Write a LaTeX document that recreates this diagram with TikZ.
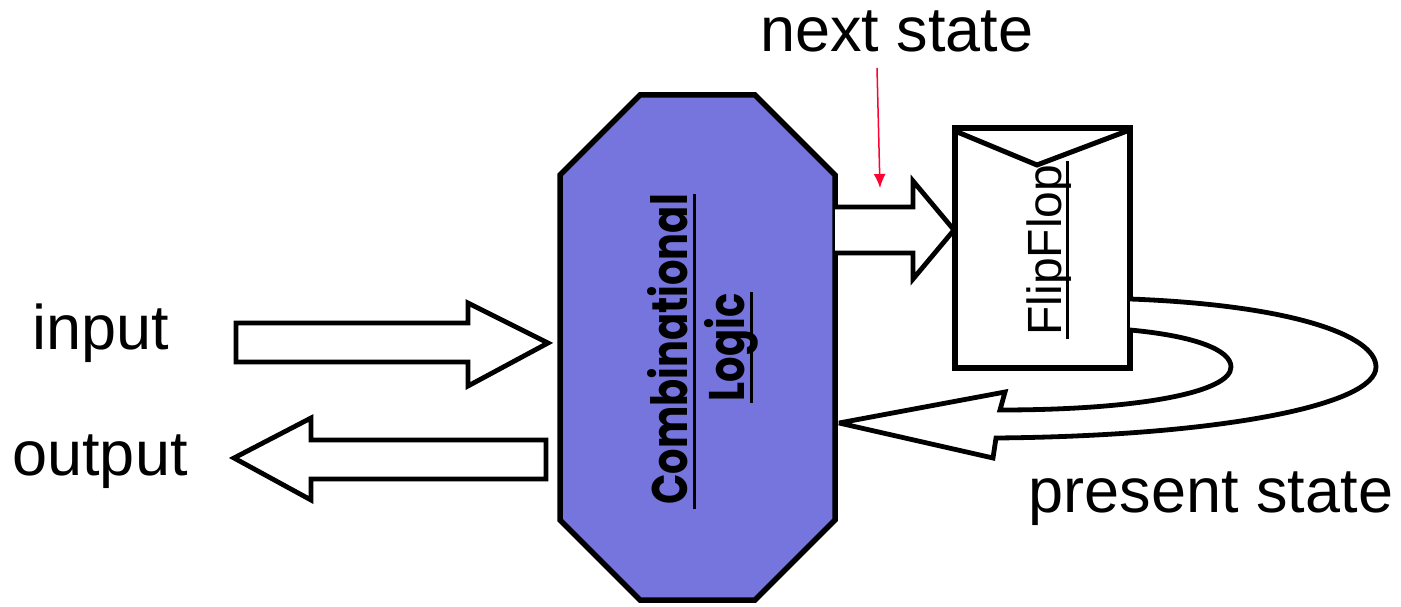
\documentclass[tikz,border=0pt]{standalone}
\usepackage{fontspec}
\usetikzlibrary{arrows.meta}
\setmainfont{Liberation Sans}
\newfontfamily\comicfont{Poppins}
\definecolor{combfill}{HTML}{7575DD}
\definecolor{nsred}{HTML}{FF0033}
\begin{document}
\begin{tikzpicture}[x=1pt,y=-1pt]
\useasboundingbox (0,0) rectangle (1401,607);
\tikzset{
  blockarrow/.style={draw=black, line width=4.8pt, fill=white, line join=miter, miter limit=4},
  lbl/.style={font=\fontsize{63}{70}\selectfont, inner sep=0pt, anchor=base},
  vlbl/.style={inner sep=0pt, outer sep=0pt, anchor=base, rotate=90},
  combtxt/.style={vlbl, font=\comicfont\bfseries\fontsize{50}{56}\selectfont},
  uline/.style={line width=3pt}
}
% combinational logic octagon
\coordinate (o1) at (560,175); \coordinate (o2) at (640,95);
\coordinate (o3) at (755,95);  \coordinate (o4) at (835,175);
\coordinate (o5) at (835,520); \coordinate (o6) at (755,600);
\coordinate (o7) at (640,600); \coordinate (o8) at (560,520);
\draw[line width=5.5pt, fill=combfill, line join=miter] (o1) -- (o2) -- (o3) -- (o4) -- (o5) -- (o6) -- (o7) -- (o8) -- cycle;
\node[combtxt] (comb) at (687,349.5) {\scalebox{0.8}[1]{Combinational}};
\node[combtxt] (logic) at (744,347.5) {\scalebox{0.8}[1]{Logic}};
\draw[uline] (comb.base west) ++(7,4) -- ([shift={(7,0)}]comb.base east);
\draw[uline] (logic.base west) ++(7,2) -- ([shift={(7,-2)}]logic.base east);

% flip flop
\draw[line width=5.5pt, fill=white] (955,128) rectangle coordinate[pos=0.5] (ffc) (1130,368);
\coordinate (ffnw) at (955,131);
\coordinate (ffv) at (1037,165);
\coordinate (ffne) at (1127,131);
\draw[line width=5pt, line join=miter] (ffnw) -- (ffv) -- (ffne);
\node[vlbl, font=\fontsize{48}{54}\selectfont] (ff) at (1061,250) {FlipFlop};
\draw[line width=3pt] (ff.base west) ++(6,4) -- ([shift={(6,-4)}]ff.base east);

% input arrow
\draw[blockarrow] (236,323) -- (468,323) -- (468,303) -- (548,343) -- (468,386) -- (468,362) -- (236,362) -- cycle;
% output arrow
\draw[blockarrow] (546,440) -- (311,440) -- (311,418) -- (234,458) -- (311,500) -- (311,479) -- (546,479) -- cycle;
% next state arrow
\draw[blockarrow] (o4 |- 0,207) -- (913,207) -- (913,181) -- (954,230) -- (913,279) -- (913,253) -- (o4 |- 0,253);
% feedback (present state) arrow
\draw[blockarrow] (1130,299) .. controls (1290,305) and (1376,335) .. (1376,367)
  .. controls (1376,405) and (1220,436) .. (996,438)
  -- (993,458) -- (839,423) -- (1005,392) -- (1000,410)
  .. controls (1140,410) and (1231,392) .. (1231,367)
  .. controls (1231,350) and (1195,336) .. (1130,330);

% labels
\node[lbl] (ns) at (897,52) {next state};
\node[lbl] (in) at (101,349) {input};
\node[lbl] (out) at (100,475) {output};
\node[lbl] (ps) at (1211,512) {present state};
\coordinate (redtip) at (880,188);
\draw[nsred, line width=1.5pt, -{Latex[length=14pt,width=12pt]}] (ns.south -| 877,0) ++(0,15) -- (redtip);
\end{tikzpicture}
\end{document}
